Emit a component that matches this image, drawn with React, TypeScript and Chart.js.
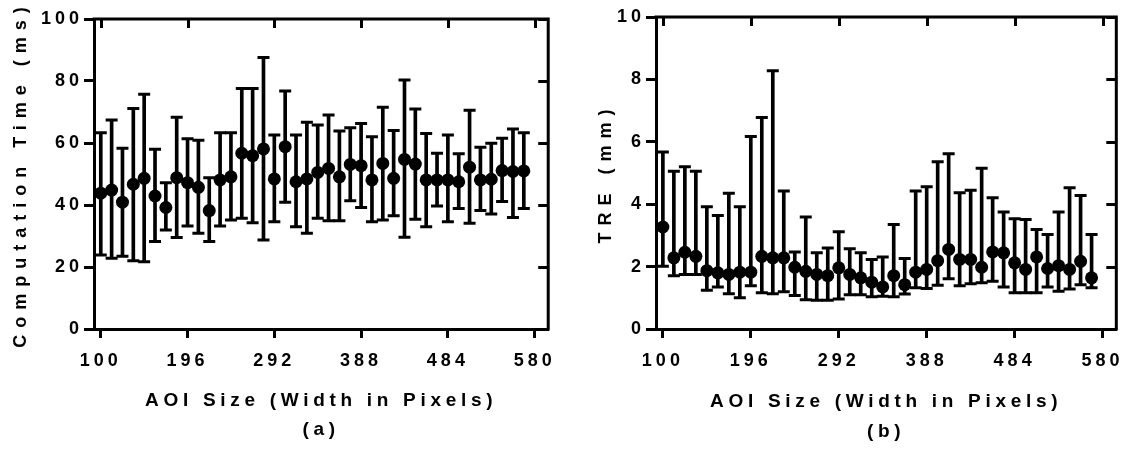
import React, { useEffect, useRef } from "react";
import { Chart, registerables } from "chart.js";

Chart.register(...registerables);

// ---- data ----
const aoiSizes = [
  100, 112, 124, 136, 148, 160, 172, 184, 196, 208, 220, 232, 244, 256, 268, 280, 292, 304, 316, 328,
  340, 352, 364, 376, 388, 400, 412, 424, 436, 448, 460, 472, 484, 496, 508, 520, 532, 544, 556, 568,
];
const xTickValues = [100, 196, 292, 388, 484, 580];
const timeTickValues = [0, 20, 40, 60, 80, 100];
const treTickValues = [0, 2, 4, 6, 8, 10];

const timeMean = [
  43.8, 44.8, 40.9, 46.7, 48.6, 42.9, 39.2, 48.8, 47.2, 45.7, 38.2, 48.1, 49.1, 56.7, 55.9, 58.1, 48.4, 58.8, 47.5, 48.4,
  50.5, 51.8, 49.1, 53.1, 52.7, 48.1, 53.4, 48.6, 54.7, 53.2, 48.1, 48.1, 48.1, 47.5, 52.2, 48.1, 48.3, 51.1, 50.8, 51.0,
];
const timeUpper = [
  63.3, 67.4, 58.3, 71.1, 75.7, 58.0, 47.2, 68.3, 61.4, 60.9, 48.8, 63.3, 63.3, 77.6, 77.6, 87.6, 62.6, 76.8, 62.6, 66.7,
  65.8, 69.0, 63.9, 64.9, 66.3, 62.0, 71.5, 64.0, 80.3, 71.0, 63.1, 56.7, 62.6, 56.5, 70.6, 58.6, 59.9, 61.5, 64.5, 63.3,
];
const timeLower = [
  23.9, 22.8, 23.5, 22.0, 21.7, 28.2, 31.9, 29.5, 33.2, 30.9, 28.2, 33.2, 35.2, 35.7, 34.3, 28.7, 34.6, 40.9, 33.0, 30.9,
  35.7, 34.9, 34.9, 41.4, 39.2, 34.6, 35.2, 36.5, 29.6, 35.4, 33.0, 39.7, 34.6, 38.9, 34.1, 38.2, 37.1, 41.1, 36.0, 38.9,
];

const treMean = [
  3.27, 2.28, 2.46, 2.33, 1.87, 1.8, 1.75, 1.82, 1.82, 2.33, 2.28, 2.28, 1.98, 1.85, 1.75, 1.71, 1.96, 1.75, 1.64, 1.5,
  1.35, 1.71, 1.42, 1.82, 1.91, 2.19, 2.55, 2.23, 2.23, 1.98, 2.47, 2.44, 2.12, 1.91, 2.31, 1.94, 2.03, 1.91, 2.17, 1.64,
];
const treUpper = [
  5.67, 5.06, 5.2, 5.06, 3.92, 3.64, 4.35, 3.92, 6.17, 6.78, 8.28, 4.42, 2.47, 3.59, 2.44, 2.6, 3.12, 2.57, 2.44, 2.23,
  2.31, 3.35, 2.26, 4.42, 4.56, 5.36, 5.62, 4.37, 4.45, 5.15, 4.21, 3.75, 3.53, 3.51, 3.19, 3.03, 3.75, 4.53, 4.28, 3.03,
];
const treLower = [
  2.01, 1.71, 1.75, 1.75, 1.24, 1.35, 1.13, 1.0, 1.39, 1.16, 1.13, 1.19, 1.07, 0.94, 0.92, 0.92, 0.96, 1.1, 1.1, 1.03,
  1.05, 1.03, 1.12, 1.32, 1.3, 1.4, 1.61, 1.39, 1.45, 1.48, 1.53, 1.35, 1.16, 1.16, 1.16, 1.35, 1.21, 1.28, 1.42, 1.32,
];

const xAxisTitle = "AOI Size (Width in Pixels)";
const timeAxisTitle = "Computation Time (ms)";
const treAxisTitle = "TRE (mm)";
const panelLabels = ["(a)", "(b)"];

// ---- styling ----
const FONT = '"Liberation Sans", Arial, Helvetica, sans-serif';
const BLACK = "#000";

const framePlugin = {
  id: "frame",
  beforeUpdate(chart: any) {
    chart.ctx.letterSpacing = "4px";
  },
  beforeDraw(chart: any) {
    chart.ctx.letterSpacing = "4px";
  },
  afterDraw(chart: any, _args: any, opts: any) {
    const { ctx, chartArea: a, scales } = chart;
    ctx.save();
    ctx.strokeStyle = BLACK;
    ctx.lineWidth = 3;
    ctx.beginPath();
    ctx.moveTo(a.left - 1.5, a.top);
    ctx.lineTo(a.right, a.top);
    ctx.lineTo(a.right, a.bottom + 1.5);
    ctx.stroke();
    ctx.beginPath();
    for (const t of scales.x.ticks) {
      const px = Math.round(scales.x.getPixelForValue(t.value)) + 0.5;
      ctx.moveTo(px, a.top);
      ctx.lineTo(px, a.top + 9);
    }
    for (const t of scales.y.ticks) {
      const py = Math.round(scales.y.getPixelForValue(t.value)) + 0.5;
      ctx.moveTo(a.right, py);
      ctx.lineTo(a.right - 10, py);
    }
    ctx.stroke();

    ctx.fillStyle = BLACK;
    ctx.textAlign = "center";
    ctx.textBaseline = "middle";
    ctx.font = `bold 19px ${FONT}`;
    ctx.letterSpacing = "4.7px";
    const cx = (a.left + a.right) / 2;
    ctx.fillText(opts.xTitle, cx, opts.xTitleY);
    ctx.fillText(opts.sub, cx, opts.subY);

    ctx.save();
    ctx.translate(opts.yTitleX, (a.top + a.bottom) / 2);
    ctx.rotate(-Math.PI / 2);
    ctx.font = `bold 18px ${FONT}`;
    ctx.letterSpacing = "7px";
    ctx.fillText(opts.yTitle, 0, 0);
    ctx.restore();
    ctx.restore();
  },
};

type Panel = {
  mean: number[];
  upper: number[];
  lower: number[];
  yMax: number;
  yTicks: number[];
  yTitle: string;
  sub: string;
  pad: { left: number; right: number; top: number; bottom: number };
  yWidth: number;
  yTitleX: number;
  xTitleY: number;
  subY: number;
};

function makeConfig(p: Panel): any {
  const pts = (vals: number[]) => aoiSizes.map((x, i) => ({ x, y: vals[i] }));
  const capDataset = (vals: number[]) => ({
    type: "line",
    data: pts(vals),
    showLine: false,
    pointStyle: "line",
    pointRadius: 6,
    borderColor: BLACK,
    pointBorderColor: BLACK,
    pointBorderWidth: 3,
    order: 1,
  });
  return {
    type: "bar",
    data: {
      datasets: [
        {
          type: "line",
          data: pts(p.mean),
          showLine: false,
          pointStyle: "circle",
          pointRadius: 6.5,
          borderColor: BLACK,
          backgroundColor: BLACK,
          pointBackgroundColor: BLACK,
          pointBorderColor: BLACK,
          pointBorderWidth: 0,
          order: 0,
        },
        capDataset(p.upper),
        capDataset(p.lower),
        {
          type: "bar",
          data: aoiSizes.map((x, i) => ({ x, y: [p.lower[i], p.upper[i]] })),
          backgroundColor: BLACK,
          borderWidth: 0,
          barThickness: 3,
          grouped: false,
          order: 2,
        },
      ],
    },
    options: {
      responsive: false,
      animation: false,
      events: [],
      layout: { padding: p.pad },
      plugins: {
        legend: { display: false },
        tooltip: { enabled: false },
        frame: {
          xTitle: xAxisTitle,
          sub: p.sub,
          yTitle: p.yTitle,
          yTitleX: p.yTitleX,
          xTitleY: p.xTitleY,
          subY: p.subY,
        },
      },
      scales: {
        x: {
          type: "linear",
          min: 92.5,
          max: 595,
          offset: false,
          afterBuildTicks: (s: any) => {
            s.ticks = xTickValues.map((v) => ({ value: v }));
          },
          afterFit: (s: any) => {
            s.height = 120;
          },
          grid: {
            display: true,
            drawOnChartArea: false,
            drawTicks: true,
            tickLength: 9,
            tickWidth: 3,
            tickColor: BLACK,
            offset: false,
          },
          border: { display: true, color: BLACK, width: 3 },
          ticks: {
            autoSkip: false,
            maxRotation: 0,
            padding: 12,
            color: BLACK,
            font: { family: FONT, size: 18, weight: "bold" },
          },
        },
        y: {
          type: "linear",
          min: 0,
          max: p.yMax,
          afterBuildTicks: (s: any) => {
            s.ticks = p.yTicks.map((v) => ({ value: v }));
          },
          afterFit: (s: any) => {
            s.width = p.yWidth;
          },
          grid: {
            display: true,
            drawOnChartArea: false,
            drawTicks: true,
            tickLength: 10,
            tickWidth: 3,
            tickColor: BLACK,
          },
          border: { display: true, color: BLACK, width: 3 },
          ticks: {
            padding: 1,
            color: BLACK,
            font: { family: FONT, size: 18, weight: "bold" },
          },
        },
      },
    },
    plugins: [framePlugin],
  };
}

const leftPanel: Panel = {
  mean: timeMean,
  upper: timeUpper,
  lower: timeLower,
  yMax: 100,
  yTicks: timeTickValues,
  yTitle: timeAxisTitle,
  sub: panelLabels[0],
  pad: { left: 0, right: 11, top: 19, bottom: 0 },
  yWidth: 94,
  yTitleX: 21,
  xTitleY: 400.5,
  subY: 430,
};

const rightPanel: Panel = {
  mean: treMean,
  upper: treUpper,
  lower: treLower,
  yMax: 10,
  yTicks: treTickValues,
  yTitle: treAxisTitle,
  sub: panelLabels[1],
  pad: { left: 0, right: 14, top: 17, bottom: 0 },
  yWidth: 88,
  yTitleX: 38,
  xTitleY: 402,
  subY: 432,
};

function ChartPanel({ panel, left }: { panel: Panel; left: number }) {
  const ref = useRef<HTMLCanvasElement | null>(null);
  useEffect(() => {
    if (!ref.current) return;
    const chart = new Chart(ref.current, makeConfig(panel));
    return () => chart.destroy();
  }, [panel]);
  return (
    <div style={{ position: "absolute", left, top: 0, width: 568, height: 449 }}>
      <canvas ref={ref} width={568} height={449} style={{ display: "block", width: 568, height: 449 }} />
    </div>
  );
}

export default function App() {
  return (
    <div style={{ position: "absolute", left: 0, top: 0, width: 1136, height: 449, background: "#fff" }}>
      <ChartPanel panel={leftPanel} left={0} />
      <ChartPanel panel={rightPanel} left={568} />
    </div>
  );
}
